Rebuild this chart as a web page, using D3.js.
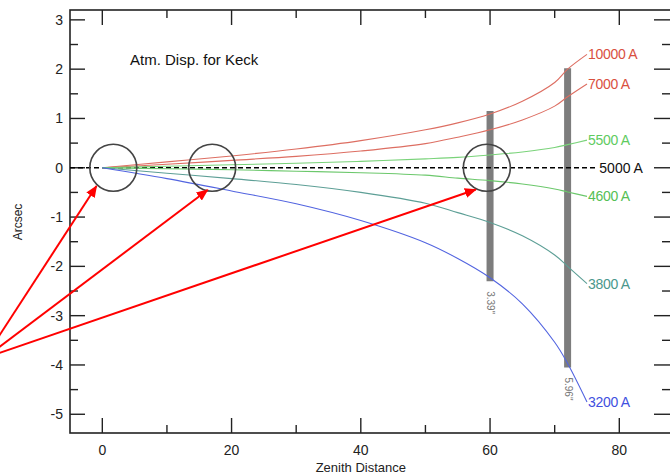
<!DOCTYPE html>
<html>
<head>
<meta charset="utf-8">
<script src="https://cdn.jsdelivr.net/npm/d3@7"></script>
<style>
  body { margin: 0; background: #fff; }
  svg { display: block; font-family: "Liberation Sans", Arial, Helvetica, sans-serif; }
</style>
</head>
<body>
<svg id="chart" width="670" height="475"></svg>
<script>
// Zenith distance samples (degrees)
const zenith = [0, 10, 20, 30, 40, 50, 55, 60, 65, 70, 72, 75];

// Dispersion relative to 5000 A (arcsec)
const disp10000 = [0, 0.12, 0.24, 0.38, 0.55, 0.77, 0.91, 1.09, 1.35, 1.73, 2.00, 2.30];
const disp7000  = [0, 0.07, 0.15, 0.23, 0.34, 0.49, 0.62, 0.77, 0.97, 1.25, 1.44, 1.70];
const disp5500  = [0, 0.03, 0.06, 0.09, 0.13, 0.18, 0.21, 0.26, 0.32, 0.41, 0.47, 0.56];
const disp4600  = [0, -0.02, -0.04, -0.07, -0.10, -0.15, -0.21, -0.26, -0.33, -0.43, -0.49, -0.58];
const disp3800  = [0, -0.11, -0.22, -0.34, -0.50, -0.72, -0.91, -1.11, -1.38, -1.77, -2.00, -2.35];
const disp3200  = [0, -0.22, -0.47, -0.73, -1.07, -1.52, -1.84, -2.23, -2.76, -3.54, -3.97, -4.75];

const seriesNames  = ['10000 A', '7000 A', '5500 A', '4600 A', '3800 A', '3200 A'];
const lineColors   = ['#dd6e62', '#dd6e62', '#7ad37a', '#6cc86c', '#5d9f96', '#5264e0'];
const labelColors  = ['#d9503f', '#d9503f', '#5fcb5f', '#55c055', '#4a978c', '#3f50e0'];

// Grey bars showing total spread
const barZ      = [60, 72];
const barTop    = [1.15, 2.02];
const barBottom = [-2.3, -4.05];
const barLabels = ['3.39"', '5.96"'];

// Circled regions and arrows (data units)
const circleZ = [1.7, 17.0, 59.5];
const arrowTipZ = [-0.9, 16.3, 57.8];
const arrowTipV = [-0.37, -0.45, -0.44];
const arrowStart = [-18.2, -3.86];

const xTicks = [0, 20, 40, 60, 80];
const xMinor = [10, 30, 50, 70];
const yTicks = [-5, -4, -3, -2, -1, 0, 1, 2, 3];
const yMinor = [-5, -4.5, -4, -3.5, -3, -2.5, -2, -1.5, -1, -0.5, 0, 0.5, 1, 1.5, 2, 2.5, 3];

const svg = d3.select('#chart');
const plotLeft = 70, plotRight = 671, plotTop = 10, plotBottom = 433;

const x = d3.scaleLinear().domain([-5, 88]).range([plotLeft, plotRight]);
const y = d3.scaleLinear().domain([-5.38, 3.2]).range([plotBottom, plotTop]);

const axisColor = '#222';

// Frame
svg.append('rect')
  .attr('x', plotLeft).attr('y', plotTop)
  .attr('width', plotRight - plotLeft).attr('height', plotBottom - plotTop)
  .attr('fill', 'none').attr('stroke', axisColor).attr('stroke-width', 1.6);

// Ticks on all four sides
const tickG = svg.append('g').attr('stroke', axisColor).attr('stroke-width', 1.4);
yMinor.forEach(v => {
  const major = Number.isInteger(v);
  const len = major ? 15 : 8;
  tickG.append('line').attr('x1', plotLeft).attr('x2', plotLeft + len).attr('y1', y(v)).attr('y2', y(v));
  tickG.append('line').attr('x1', plotRight).attr('x2', plotRight - (major ? 17 : 9)).attr('y1', y(v)).attr('y2', y(v));
});
xTicks.concat(xMinor).forEach(v => {
  const len = xTicks.includes(v) ? 15 : 8;
  tickG.append('line').attr('x1', x(v)).attr('x2', x(v)).attr('y1', plotBottom).attr('y2', plotBottom - len);
  tickG.append('line').attr('x1', x(v)).attr('x2', x(v)).attr('y1', plotTop).attr('y2', plotTop + len);
});

// Tick labels
svg.append('g').selectAll('text').data(yTicks).enter().append('text')
  .attr('x', plotLeft - 7).attr('y', d => y(d)).attr('dy', '0.35em')
  .attr('text-anchor', 'end').attr('font-size', 14).attr('fill', axisColor)
  .text(d => d);

svg.append('g').selectAll('text').data(xTicks).enter().append('text')
  .attr('x', d => x(d)).attr('y', 455)
  .attr('text-anchor', 'middle').attr('font-size', 14).attr('fill', axisColor)
  .text(d => d);

// Axis titles
svg.append('text')
  .attr('x', x(40)).attr('y', 472)
  .attr('text-anchor', 'middle').attr('font-size', 13).attr('fill', axisColor)
  .text('Zenith Distance');

svg.append('text')
  .attr('transform', 'translate(22,222) rotate(-90)')
  .attr('text-anchor', 'middle').attr('font-size', 12).attr('fill', axisColor)
  .text('Arcsec');

svg.append('text')
  .attr('x', 130).attr('y', 65)
  .attr('font-size', 15).attr('fill', '#111')
  .text('Atm. Disp. for Keck');

// Grey bars
barZ.forEach((z, i) => {
  svg.append('line')
    .attr('x1', x(z)).attr('x2', x(z))
    .attr('y1', y(barTop[i])).attr('y2', y(barBottom[i]))
    .attr('stroke', '#7d7d7d').attr('stroke-width', 7);
  svg.append('text')
    .attr('transform', `translate(${x(z) - 3},${y(barBottom[i]) + 10}) rotate(90)`)
    .attr('font-size', 10).attr('fill', '#777')
    .text(barLabels[i]);
});

// Reference 5000 A line
svg.append('line')
  .attr('x1', plotLeft).attr('x2', x(76.6))
  .attr('y1', y(0)).attr('y2', y(0))
  .attr('stroke', '#000').attr('stroke-width', 1.4)
  .attr('stroke-dasharray', '5,3');
svg.append('text')
  .attr('x', x(76.6) + 2).attr('y', y(0)).attr('dy', '0.35em')
  .attr('font-size', 14).attr('fill', '#111')
  .text('5000 A');

// Dispersion curves
const allSeries = [disp10000, disp7000, disp5500, disp4600, disp3800, disp3200];
const line = d3.line()
  .x((d, i) => x(zenith[i]))
  .y(d => y(d))
  .curve(d3.curveCatmullRom.alpha(0.5));

allSeries.forEach((vals, i) => {
  svg.append('path')
    .attr('d', line(vals))
    .attr('fill', 'none')
    .attr('stroke', lineColors[i])
    .attr('stroke-width', 1.1);
  const last = vals[vals.length - 1];
  svg.append('text')
    .attr('x', x(zenith[zenith.length - 1]) + 1).attr('y', y(last)).attr('dy', '0.35em')
    .attr('font-size', 14).attr('fill', labelColors[i])
    .attr('letter-spacing', -0.3)
    .text(seriesNames[i]);
});

// Circles
svg.append('g').selectAll('circle').data(circleZ).enter().append('circle')
  .attr('cx', d => x(d)).attr('cy', y(0)).attr('r', 23.5)
  .attr('fill', 'none').attr('stroke', '#444').attr('stroke-width', 1.6);

// Red arrows
svg.append('defs').append('marker')
  .attr('id', 'arrow')
  .attr('viewBox', '0 0 12 10')
  .attr('refX', 11).attr('refY', 5)
  .attr('markerWidth', 12).attr('markerHeight', 10)
  .attr('markerUnits', 'userSpaceOnUse')
  .attr('orient', 'auto')
  .append('path').attr('d', 'M0,0 L12,5 L0,10 Z').attr('fill', '#ff0000');

arrowTipZ.forEach((z, i) => {
  svg.append('line')
    .attr('x1', x(arrowStart[0])).attr('y1', y(arrowStart[1]))
    .attr('x2', x(z)).attr('y2', y(arrowTipV[i]))
    .attr('stroke', '#ff0000').attr('stroke-width', 2)
    .attr('marker-end', 'url(#arrow)');
});
</script>
</body>
</html>
